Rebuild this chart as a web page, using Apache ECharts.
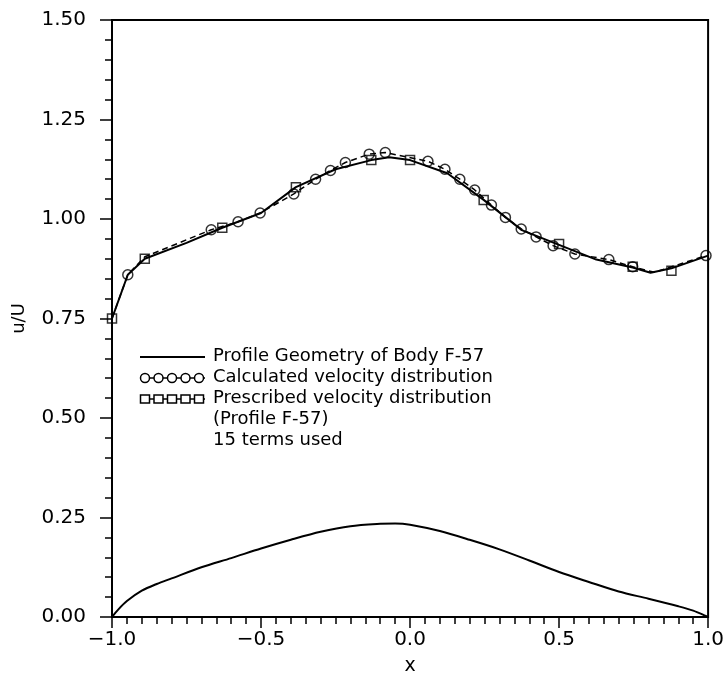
<!DOCTYPE html>
<html>
<head>
<meta charset="utf-8">
<script src="https://cdn.jsdelivr.net/npm/echarts@6/dist/echarts.min.js"></script>
<style>
  html, body { margin: 0; padding: 0; background: #fff; }
  #chart { width: 727px; height: 681px; }
</style>
</head>
<body>
<div id="chart"></div>
<script>
// profile geometry of body F-57 (bottom curve)
const profileX = [-1.0, -0.98, -0.95, -0.9, -0.85, -0.8, -0.7, -0.6, -0.5, -0.4, -0.3, -0.2, -0.1, -0.05, 0.0, 0.1, 0.2, 0.3, 0.4, 0.5, 0.6, 0.7, 0.8, 0.9, 0.95, 1.0];
const profileY = [0, 0.018, 0.04, 0.066, 0.083, 0.097, 0.125, 0.148, 0.172, 0.194, 0.214, 0.228, 0.234, 0.235, 0.232, 0.216, 0.194, 0.17, 0.142, 0.113, 0.088, 0.064, 0.046, 0.027, 0.016, 0];

// calculated velocity distribution: dashed line + circles
const calcLineX = [-1.0, -0.947, -0.89, -0.667, -0.577, -0.503, -0.39, -0.317, -0.267, -0.217, -0.137, -0.083, 0.06, 0.117, 0.167, 0.217, 0.273, 0.32, 0.373, 0.423, 0.48, 0.553, 0.667, 0.747, 0.82, 0.993];
const calcLineY = [0.75, 0.86, 0.905, 0.973, 0.993, 1.015, 1.063, 1.10, 1.122, 1.142, 1.163, 1.167, 1.145, 1.125, 1.10, 1.073, 1.035, 1.004, 0.975, 0.955, 0.933, 0.912, 0.898, 0.88, 0.866, 0.908];
const calcPtsX = [-0.947, -0.667, -0.577, -0.503, -0.39, -0.317, -0.267, -0.217, -0.137, -0.083, 0.06, 0.117, 0.167, 0.217, 0.273, 0.32, 0.373, 0.423, 0.48, 0.553, 0.667, 0.747, 0.993];
const calcPtsY = [0.86, 0.973, 0.993, 1.015, 1.063, 1.10, 1.122, 1.142, 1.163, 1.167, 1.145, 1.125, 1.10, 1.073, 1.035, 1.004, 0.975, 0.955, 0.933, 0.912, 0.898, 0.88, 0.908];

// prescribed velocity distribution: solid line + squares
const prescLineX = [-1.0, -0.947, -0.89, -0.75, -0.63, -0.5, -0.383, -0.25, -0.13, -0.07, 0.0, 0.125, 0.247, 0.375, 0.5, 0.625, 0.747, 0.807, 0.877, 1.0];
const prescLineY = [0.75, 0.86, 0.90, 0.94, 0.978, 1.015, 1.08, 1.125, 1.148, 1.155, 1.148, 1.115, 1.048, 0.972, 0.935, 0.898, 0.878, 0.865, 0.876, 0.908];
const prescPtsX = [-1.0, -0.89, -0.63, -0.383, -0.13, 0.0, 0.247, 0.5, 0.747, 0.877];
const prescPtsY = [0.75, 0.90, 0.978, 1.08, 1.148, 1.148, 1.048, 0.937, 0.88, 0.87];

const legendLines = ['Profile Geometry of Body F-57', 'Calculated velocity distribution', 'Prescribed velocity distribution', '(Profile F-57)', '15 terms used'];

const zip = (xs, ys) => xs.map((x, i) => [x, ys[i]]);

const FONT = 'DejaVu Sans';
const chart = echarts.init(document.getElementById('chart'));

// legend drawn with graphics (multi-marker samples)
const legendTop = 357, legendStep = 21, sampleX0 = 140, sampleX1 = 205, textX = 213;
const legendGraphics = [];
legendGraphics.push({ type: 'line', shape: { x1: sampleX0, y1: legendTop, x2: sampleX1, y2: legendTop }, style: { stroke: '#000', lineWidth: 2 } });
legendGraphics.push({ type: 'line', shape: { x1: sampleX0, y1: legendTop + legendStep, x2: sampleX1, y2: legendTop + legendStep }, style: { stroke: '#000', lineWidth: 1.5 } });
legendGraphics.push({ type: 'line', shape: { x1: sampleX0, y1: legendTop + 2 * legendStep, x2: sampleX1, y2: legendTop + 2 * legendStep }, style: { stroke: '#000', lineWidth: 1.5 } });
for (let k = 0; k < 5; k++) {
    const cx = sampleX0 + 5 + k * 13.5;
    legendGraphics.push({ type: 'circle', shape: { cx: cx, cy: legendTop + legendStep, r: 4.5 }, style: { fill: '#fff', stroke: '#000', lineWidth: 1.5 } });
    legendGraphics.push({ type: 'rect', shape: { x: cx - 4.5, y: legendTop + 2 * legendStep - 4, width: 9, height: 8 }, style: { fill: '#fff', stroke: '#000', lineWidth: 1.5 } });
}
legendLines.forEach((t, i) => {
    legendGraphics.push({
        type: 'text', left: textX, top: legendTop + i * legendStep - 10,
        style: { text: t, font: '18px "' + FONT + '"', fill: '#000' }
    });
});

const option = {
    animation: false,
    backgroundColor: '#fff',
    grid: { left: 112, right: 14, top: 20, bottom: 61, show: true, borderColor: '#000', borderWidth: 2 },
    xAxis: {
        type: 'value', min: -1, max: 1, interval: 0.5,
        name: 'x', nameLocation: 'middle', nameGap: 40,
        nameTextStyle: { fontFamily: FONT, fontSize: 19, color: '#000' },
        axisLine: { onZero: false, lineStyle: { color: '#000', width: 2 } },
        axisTick: { length: 11, lineStyle: { color: '#000', width: 1.5 } },
        minorTick: { show: true, splitNumber: 10, length: 7, lineStyle: { color: '#000', width: 1.5 } },
        splitLine: { show: false },
        axisLabel: {
            margin: 13, fontFamily: FONT, fontSize: 20, color: '#000',
            formatter: v => v.toFixed(1).replace('-', '\u2212')
        }
    },
    yAxis: {
        type: 'value', min: 0, max: 1.5, interval: 0.25,
        name: 'u/U', nameLocation: 'middle', nameGap: 84, nameRotate: 90,
        nameTextStyle: { fontFamily: FONT, fontSize: 18, color: '#000' },
        axisLine: { onZero: false, lineStyle: { color: '#000', width: 2 } },
        axisTick: { length: 12, lineStyle: { color: '#000', width: 1.5 } },
        minorTick: { show: true, splitNumber: 5, length: 7, lineStyle: { color: '#000', width: 1.5 } },
        splitLine: { show: false },
        axisLabel: {
            margin: 26, fontFamily: FONT, fontSize: 20, color: '#000',
            formatter: v => v.toFixed(2)
        }
    },
    series: [
        {
            name: 'Profile Geometry of Body F-57', type: 'line', data: zip(profileX, profileY),
            smooth: 0.3, showSymbol: false, lineStyle: { color: '#000', width: 2 }
        },
        {
            name: 'Prescribed line', type: 'line', data: zip(prescLineX, prescLineY),
            showSymbol: false, lineStyle: { color: '#000', width: 2 }
        },
        {
            name: 'Calculated line', type: 'line', data: zip(calcLineX, calcLineY),
            showSymbol: false, lineStyle: { color: '#000', width: 1.5, type: [6, 4] }
        },
        {
            name: 'Calculated velocity distribution', type: 'scatter', data: zip(calcPtsX, calcPtsY),
            symbol: 'circle', symbolSize: 10,
            itemStyle: { color: 'rgba(255,255,255,0)', borderColor: '#000', borderWidth: 1.5 }
        },
        {
            name: 'Prescribed velocity distribution', type: 'scatter', data: zip(prescPtsX, prescPtsY),
            symbol: 'rect', symbolSize: 9,
            itemStyle: { color: 'rgba(255,255,255,0)', borderColor: '#000', borderWidth: 1.5 }
        }
    ],
    graphic: legendGraphics
};

chart.setOption(option);
</script>
</body>
</html>
